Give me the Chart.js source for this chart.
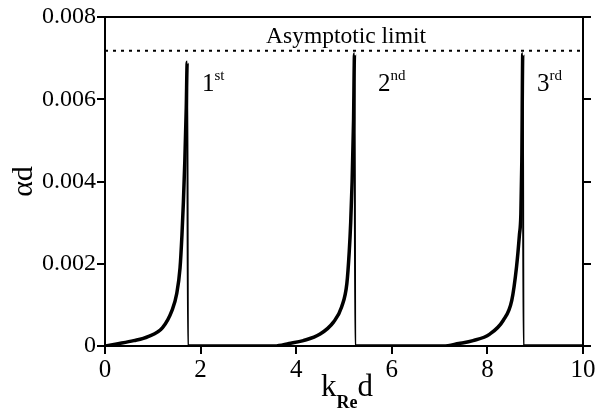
<!DOCTYPE html>
<html><head><meta charset="utf-8">
<script src="https://cdn.jsdelivr.net/npm/chart.js@4.4.1/dist/chart.umd.min.js"></script>
<style>html,body{margin:0;padding:0;background:#fff}#wrap{width:608px;height:415px;position:relative}</style>
</head><body><div id="wrap"><canvas id="c" width="608" height="415"></canvas></div>
<script>
// Data
const kd = [0, 0.3, 0.6, 0.9, 1.2, 1.4, 1.5, 1.57, 1.61, 1.64, 1.67, 1.70, 1.72, 1.735,
  3.55, 3.85, 4.15, 4.5, 4.78, 4.95, 5.06, 5.11, 5.14, 5.17, 5.20, 5.22, 5.235,
  7.08, 7.4, 7.7, 8.05, 8.33, 8.51, 8.61, 8.67, 8.70, 8.72, 8.74, 8.755, 10];
const alphaD = [0, 0.00006, 0.00013, 0.00023, 0.00044, 0.00086, 0.00127, 0.0019, 0.0027, 0.0035, 0.0045, 0.0058, 0.0069, 0,
  0, 0.00006, 0.00013, 0.00029, 0.00058, 0.00095, 0.00152, 0.0023, 0.0030, 0.0040, 0.0055, 0.0071, 0,
  0, 0.00006, 0.00013, 0.00029, 0.00062, 0.00111, 0.00193, 0.0027, 0.0032, 0.0045, 0.0071, 0, 0];
const limitX = [0, 10];
const limitY = [0.00718, 0.00718];
const yTicks = [0, 0.002, 0.004, 0.006, 0.008];
const yTickLabels = ['0', '0.002', '0.004', '0.006', '0.008'];
const xTicks = [0, 2, 4, 6, 8, 10];
const modeLabels = [{x: 2.03, y: 0.00621, n: '1', s: 'st'}, {x: 5.71, y: 0.00621, n: '2', s: 'nd'}, {x: 9.04, y: 0.00621, n: '3', s: 'rd'}];
const limitText = 'Asymptotic limit';

const SERIF = '"Liberation Serif", "Times New Roman", serif';
const L = 105, R = 583, T = 17, B = 346;

const textPlugin = {
  id: 'texts',
  afterDraw(chart) {
    const ctx = chart.ctx, xs = chart.scales.x, ys = chart.scales.y, a = chart.chartArea;
    ctx.save();
    ctx.strokeStyle = '#000'; ctx.lineWidth = 2;
    ctx.beginPath(); ctx.moveTo(a.left, a.top); ctx.lineTo(a.right, a.top); ctx.stroke();
    ctx.fillStyle = '#000';
    ctx.textBaseline = 'alphabetic';
    ctx.font = '23.5px ' + SERIF; ctx.textAlign = 'center';
    ctx.fillText(limitText, (a.left + a.right) / 2 + 2, ys.getPixelForValue(limitY[0]) - 8);
    ctx.textAlign = 'left';
    modeLabels.forEach(m => {
      const px = xs.getPixelForValue(m.x), py = ys.getPixelForValue(m.y);
      ctx.font = '25px ' + SERIF; ctx.fillText(m.n, px, py);
      const w = ctx.measureText(m.n).width;
      ctx.font = '15px ' + SERIF; ctx.fillText(m.s, px + w, py - 11);
    });
    const cx = (a.left + a.right) / 2;
    ctx.font = '31px ' + SERIF;
    const wk = ctx.measureText('k').width, wd = ctx.measureText('d').width;
    ctx.font = 'bold 18px ' + SERIF;
    const wr = ctx.measureText('Re').width;
    let x0 = cx - (wk + wr + wd) / 2 + 3;
    const base = 396;
    ctx.font = '31px ' + SERIF; ctx.fillText('k', x0, base);
    ctx.font = 'bold 18px ' + SERIF; ctx.fillText('Re', x0 + wk, base + 12);
    ctx.font = '31px ' + SERIF; ctx.fillText('d', x0 + wk + wr, base);
    ctx.restore();
  }
};

const gridCommon = { drawOnChartArea: false, drawTicks: true, tickLength: 8, color: '#000', lineWidth: 2 };

new Chart(document.getElementById('c'), {
  type: 'scatter',
  data: {
    datasets: [
      {
        data: kd.map((x, i) => ({x, y: alphaD[i]})),
        showLine: true, borderColor: '#000', borderWidth: 3.5, pointRadius: 0,
        cubicInterpolationMode: 'monotone',
        segment: { borderWidth: c => (c.p1.parsed.y === 0 && c.p0.parsed.y > 0) ? 2 : 3.5 }
      },
      {
        data: limitX.map((x, i) => ({x, y: limitY[i]})),
        showLine: true, borderColor: '#000', borderWidth: 2, borderDash: [3, 5], pointRadius: 0
      }
    ]
  },
  options: {
    responsive: false, animation: false, devicePixelRatio: 1,
    layout: { padding: { top: T, left: 0, right: 0, bottom: 0 } },
    plugins: { legend: { display: false }, tooltip: { enabled: false } },
    scales: {
      x: {
        type: 'linear', min: 0, max: 10,
        afterBuildTicks: s => { s.ticks = xTicks.map(v => ({value: v})); },
        afterFit: s => { s.height = 415 - B; },
        grid: gridCommon, border: { display: true, color: '#000', width: 2 },
        ticks: { color: '#000', font: { family: SERIF, size: 25 }, padding: 1, maxRotation: 0 }
      },
      y: {
        type: 'linear', min: 0, max: 0.008,
        afterBuildTicks: s => { s.ticks = yTicks.map(v => ({value: v})); },
        afterFit: s => { s.width = L; },
        grid: gridCommon, border: { display: true, color: '#000', width: 2 },
        ticks: { color: '#000', font: { family: SERIF, size: 24 }, padding: 1,
          callback: (v) => yTickLabels[yTicks.indexOf(v)] ?? '' },
        title: { display: true, text: 'αd', color: '#000', font: { family: SERIF, size: 30 }, padding: { top: 6, bottom: 0 } }
      },
      y2: {
        type: 'linear', position: 'right', min: 0, max: 0.008,
        afterBuildTicks: s => { s.ticks = yTicks.map(v => ({value: v})); },
        afterFit: s => { s.width = 608 - R; },
        grid: gridCommon, border: { display: true, color: '#000', width: 2 },
        ticks: { display: false }
      }
    }
  },
  plugins: [textPlugin]
});
</script></body></html>
